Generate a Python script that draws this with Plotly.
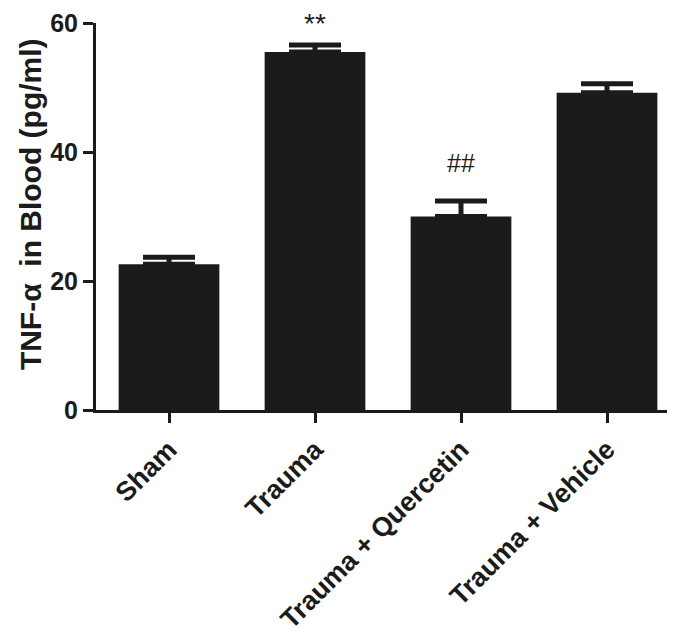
import plotly.graph_objects as go

categories = ["Sham", "Trauma", "Trauma + Quercetin", "Trauma + Vehicle"]
means = [22.6, 55.5, 30.0, 49.2]
sem = [1.1, 1.1, 2.4, 1.4]
sig_labels = ["", "**", "##", ""]
sig_y = [None, 59.9, 38.3, None]
y_ticks = [0, 20, 40, 60]
Y_MAX = 60

DARK = "#1b1b1b"
FONT = "Liberation Sans, Arial, Helvetica, sans-serif"

fig = go.Figure()
fig.add_trace(go.Bar(
    x=categories, y=means, width=0.69,
    marker=dict(color=DARK, line=dict(width=0)),
    error_y=dict(type="data", symmetric=False, array=sem,
                 arrayminus=[0] * len(sem), color=DARK,
                 thickness=5, width=26),
))

for c, lab, yy in zip(categories, sig_labels, sig_y):
    if lab:
        fig.add_annotation(x=c, y=yy / Y_MAX, xref="x", yref="paper", text=lab,
                           showarrow=False, yanchor="middle",
                           font=dict(family=FONT, size=28 if lab == "**" else 25,
                                     color=DARK))

fig.add_annotation(x=0, y=0.532, xref="paper", yref="paper",
                   text="<b>TNF-α  in Blood (pg/ml)</b>", textangle=-90,
                   showarrow=False, xanchor="center", yanchor="middle",
                   xshift=-66,
                   font=dict(family=FONT, size=30, color=DARK))

fig.update_layout(
    width=675, height=635,
    margin=dict(l=88, r=3, t=15, b=233, autoexpand=False),
    plot_bgcolor="white", paper_bgcolor="white",
    showlegend=False,
    bargap=0.31,
    xaxis=dict(range=[-0.5, 3.5], showline=True, linewidth=3, linecolor=DARK,
               ticks="outside", ticklen=10, tickwidth=3, tickcolor=DARK,
               tickangle=-45, showgrid=False, zeroline=False, automargin=False,
               tickfont=dict(family=FONT, size=27, color=DARK, weight="bold")),
    yaxis=dict(range=[0, Y_MAX], tickvals=y_ticks, showline=True, linewidth=3,
               linecolor=DARK, ticks="outside", ticklen=10, tickwidth=3,
               tickcolor=DARK, showgrid=False, zeroline=False, automargin=False,
               tickfont=dict(family=FONT, size=25, color=DARK, weight="bold")),
)

fig.write_html("out.html")
